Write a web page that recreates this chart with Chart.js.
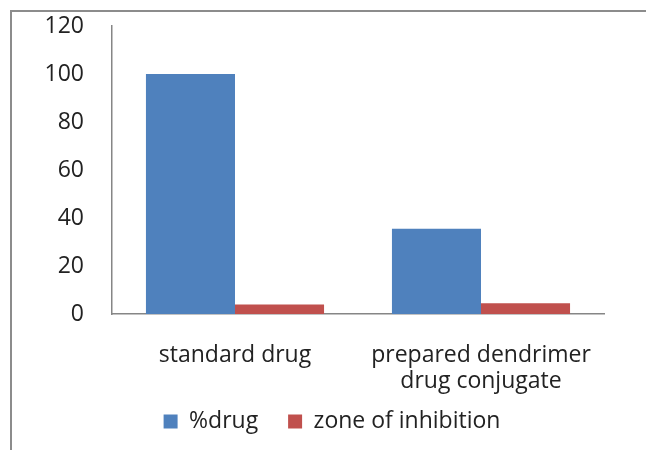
<!DOCTYPE html>
<html>
<head>
<meta charset="utf-8">
<script src="https://cdn.jsdelivr.net/npm/chart.js@4"></script>
<style>
  html, body { margin: 0; padding: 0; background: #fff; }
  #wrap { position: relative; width: 646px; height: 450px; overflow: hidden; }
  #frame { position: absolute; left: 10px; top: 10px; width: 700px; height: 500px;
           border-left: 2px solid #8c8c8c; border-top: 2px solid #8c8c8c; }
  canvas { position: absolute; left: 0; top: 0; }
</style>
</head>
<body>
<div id="wrap">
  <div id="frame"></div>
  <canvas id="c" width="646" height="450"></canvas>
</div>
<script>
const categories = [["standard drug"], ["prepared dendrimer", "drug conjugate"]];
const seriesNames = ["%drug", "zone of inhibition"];
const drugPercent = [100, 35.5];
const zoneOfInhibition = [4, 4.5];
const yTicks = [0, 20, 40, 60, 80, 100, 120];

const FONT = "'Open Sans', sans-serif";
const AXIS = "#868686";
const TEXT = "#222";
const FS = 23;

new Chart(document.getElementById("c"), {
  type: "bar",
  data: {
    labels: categories,
    datasets: [
      { label: seriesNames[0], data: drugPercent, backgroundColor: "#4F81BD", yAxisID: "y" },
      { label: seriesNames[1], data: zoneOfInhibition, backgroundColor: "#C0504D", yAxisID: "y" }
    ]
  },
  options: {
    responsive: false,
    animation: false,
    devicePixelRatio: 1,
    layout: { padding: { top: 26, right: 0, bottom: 7, left: 18 } },
    datasets: { bar: { barPercentage: 1, categoryPercentage: 0.724 } },
    plugins: {
      legend: {
        position: "bottom",
        labels: {
          font: { family: FONT, size: FS },
          color: TEXT,
          boxWidth: 14, boxHeight: 14,
          padding: 12,
          generateLabels: (chart) => {
            const items = Chart.defaults.plugins.legend.labels.generateLabels(chart);
            items.forEach((it, i) => {
              it.lineWidth = 0;
              if (i < items.length - 1) it.text = it.text + "\u00A0\u00A0\u00A0";
            });
            return items;
          }
        }
      },
      tooltip: { enabled: false },
      title: { display: false }
    },
    scales: {
      x: {
        grid: { display: false, drawTicks: false },
        border: { color: AXIS, width: 1.5 },
        ticks: {
          font: { family: FONT, size: FS, lineHeight: 1.13 },
          color: TEXT,
          padding: 28,
          maxRotation: 0
        },
        afterFit: (s) => { s.height = 84; }
      },
      y: {
        position: "left",
        min: 0, max: 120,
        afterBuildTicks: (s) => { s.ticks = yTicks.map(v => ({ value: v })); },
        grid: { display: false, drawTicks: false },
        border: { color: AXIS, width: 1.5 },
        ticks: {
          font: { family: FONT, size: FS },
          color: TEXT,
          padding: 28
        },
        afterFit: (s) => { s.width = 94; s.paddingTop = 0; s.paddingBottom = 0; }
      },
      yRightSpace: {
        position: "right",
        display: true,
        grid: { display: false, drawTicks: false },
        border: { display: false },
        ticks: { display: false },
        afterFit: (s) => { s.width = 42; s.paddingTop = 0; s.paddingBottom = 0; }
      }
    }
  }
});
</script>
</body>
</html>
